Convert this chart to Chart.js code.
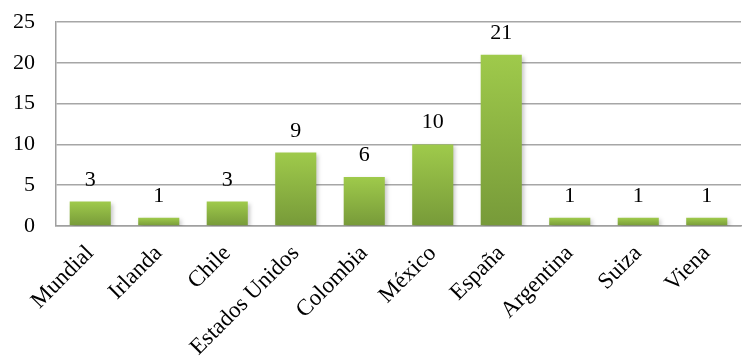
<!DOCTYPE html>
<html>
<head>
<meta charset="utf-8">
<script src="https://cdn.jsdelivr.net/npm/chart.js@4.4.0/dist/chart.umd.min.js"></script>
<style>
  html, body { margin: 0; padding: 0; background: #fff; }
  #wrap { width: 743px; height: 360px; }
</style>
</head>
<body>
<div id="wrap"><canvas id="chart" width="743" height="360"></canvas></div>
<script>
var paises = ['Mundial', 'Irlanda', 'Chile', 'Estados Unidos', 'Colombia', 'México', 'España', 'Argentina', 'Suiza', 'Viena'];
var cantidad = [3, 1, 3, 9, 6, 10, 21, 1, 1, 1];
var yTicks = [0, 5, 10, 15, 20, 25];

var fuente = '"Liberation Serif", "Times New Roman", serif';

// value above each bar
var etiquetas = {
    id: 'etiquetas',
    afterDatasetsDraw: function(chart){
        var ctx = chart.ctx;
        var meta = chart.getDatasetMeta(0);
        ctx.save();
        ctx.font = '22px ' + fuente;
        ctx.fillStyle = '#000';
        ctx.textAlign = 'center';
        ctx.textBaseline = 'alphabetic';
        meta.data.forEach(function(bar, i){
            ctx.fillText(cantidad[i], bar.x, bar.y - 16);
        });
        ctx.restore();
    }
};

// soft shadow behind the bars
var sombra = {
    id: 'sombra',
    beforeDatasetsDraw: function(chart){
        var ctx = chart.ctx;
        ctx.save();
        ctx.shadowColor = 'rgba(0,0,0,0.22)';
        ctx.shadowBlur = 4;
        ctx.shadowOffsetX = 2;
        ctx.shadowOffsetY = 2;
    },
    afterDatasetsDraw: function(chart){
        chart.ctx.restore();
    }
};

// each bar light on top, darker at the base
function relleno(context){
    var chart = context.chart;
    var y = chart.scales.y;
    if (!chart.chartArea || !y || context.raw == null) return '#8db443';
    var top = y.getPixelForValue(context.raw);
    var base = y.getPixelForValue(0);
    var g = chart.ctx.createLinearGradient(0, top, 0, base);
    g.addColorStop(0, '#9fca4b');
    g.addColorStop(1, '#779a39');
    return g;
}

new Chart(document.getElementById('chart'), {
    type: 'bar',
    data: {
        labels: paises,
        datasets: [{
            data: cantidad,
            backgroundColor: relleno,
            borderWidth: 0,
            categoryPercentage: 0.6,
            barPercentage: 1.0
        }]
    },
    plugins: [sombra, etiquetas],
    options: {
        responsive: false,
        animation: false,
        devicePixelRatio: 1,
        layout: { padding: { top: 22, right: 2, left: 0, bottom: 0 } },
        plugins: {
            legend: { display: false },
            tooltip: { enabled: false }
        },
        scales: {
            y: {
                min: 0,
                max: 25,
                afterBuildTicks: function(scale){
                    scale.ticks = yTicks.map(function(v){ return { value: v }; });
                },
                afterFit: function(scale){
                    scale.width = 56;
                    scale.paddingTop = 0;
                    scale.paddingBottom = 0;
                },
                border: { display: true, color: '#a0a0a0', width: 1.5 },
                grid: { color: '#a6a6a6', lineWidth: 1.5, drawTicks: false },
                ticks: {
                    padding: 21,
                    color: '#000',
                    font: { family: fuente, size: 22 }
                }
            },
            x: {
                afterFit: function(scale){
                    scale.height = 134;
                    scale.paddingTop = 0;
                    scale.paddingRight = 0;
                },
                border: { display: true, color: '#a0a0a0', width: 1.5 },
                grid: { display: false, drawTicks: false },
                ticks: {
                    padding: 14,
                    minRotation: 45,
                    maxRotation: 45,
                    autoSkip: false,
                    color: '#000',
                    font: { family: fuente, size: 23 }
                }
            }
        }
    }
});
</script>
</body>
</html>
